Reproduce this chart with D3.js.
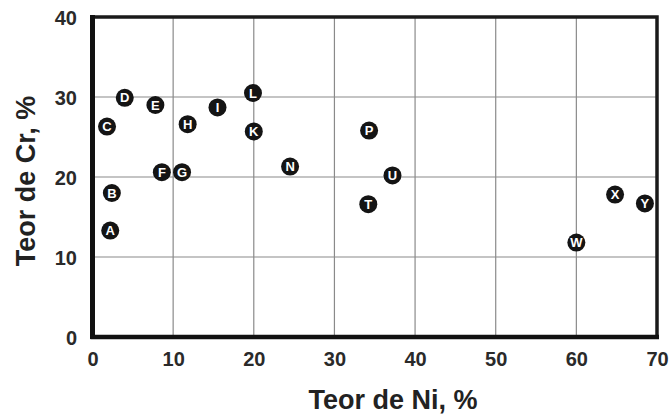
<!DOCTYPE html>
<html>
<head>
<meta charset="utf-8">
<script src="https://cdn.jsdelivr.net/npm/d3@7"></script>
<style>
  html, body { margin: 0; padding: 0; background: #fff; }
  svg { display: block; font-family: Arial, "Liberation Sans", Helvetica, sans-serif; }
</style>
</head>
<body>
<svg id="chart" width="671" height="415"></svg>
<script>
// Alloy labels with nickel and chromium contents (%)
const labels = ["A","B","C","D","E","F","G","H","I","L","K","N","P","U","T","W","X","Y"];
const niValues = [2.2, 2.4, 1.8, 4.0, 7.8, 8.6, 11.1, 11.8, 15.5, 19.9, 20.0, 24.5, 34.3, 37.2, 34.2, 60.0, 64.8, 68.5];
const crValues = [13.3, 18.0, 26.3, 29.9, 29.0, 20.6, 20.6, 26.6, 28.7, 30.5, 25.7, 21.3, 25.8, 20.2, 16.6, 11.8, 17.8, 16.7];
const xTicks = [0, 10, 20, 30, 40, 50, 60, 70];
const yTicks = [0, 10, 20, 30, 40];

const svg = d3.select("#chart");
const margin = { left: 92.5, right: 671 - 657, top: 17, bottom: 415 - 337 };
const W = 671, H = 415;

const x = d3.scaleLinear().domain([0, 70]).range([margin.left, W - margin.right]);
const y = d3.scaleLinear().domain([0, 40]).range([H - margin.bottom, margin.top]);

// Grid lines
svg.append("g")
  .selectAll("line.vg")
  .data(xTicks.slice(1, -1))
  .join("line")
  .attr("x1", d => x(d)).attr("x2", d => x(d))
  .attr("y1", y(0)).attr("y2", y(40))
  .attr("stroke", "#8a8a8a").attr("stroke-width", 1.2);

svg.append("g")
  .selectAll("line.hg")
  .data(yTicks.slice(1, -1))
  .join("line")
  .attr("x1", x(0)).attr("x2", x(70))
  .attr("y1", d => y(d)).attr("y2", d => y(d))
  .attr("stroke", "#8a8a8a").attr("stroke-width", 1.2);

// Frame: heavy left/bottom axes, lighter top/right border
svg.append("rect")
  .attr("x", x(0)).attr("y", y(40))
  .attr("width", x(70) - x(0)).attr("height", y(0) - y(40))
  .attr("fill", "none").attr("stroke", "#1a1a1a").attr("stroke-width", 3.5);
svg.append("line")
  .attr("x1", x(0)).attr("x2", x(0)).attr("y1", y(40) - 2).attr("y2", y(0) + 2)
  .attr("stroke", "#111").attr("stroke-width", 5);
svg.append("line")
  .attr("x1", x(0) - 2).attr("x2", x(70) + 2).attr("y1", y(0)).attr("y2", y(0))
  .attr("stroke", "#111").attr("stroke-width", 4.5);

// Axes (ticks rendered as labels only)
const xAxis = d3.axisBottom(x).tickValues(xTicks).tickSize(0).tickPadding(0).tickFormat(d3.format("d"));
const gx = svg.append("g").attr("transform", `translate(0,${y(0) + 29})`).call(xAxis);
gx.select(".domain").remove();
gx.selectAll("text")
  .attr("dy", 0)
  .attr("font-size", 20).attr("font-weight", "bold").attr("fill", "#2a2a2a")
  .attr("font-family", "Arial, 'Liberation Sans', sans-serif");

const yAxis = d3.axisLeft(y).tickValues(yTicks).tickSize(0).tickPadding(0).tickFormat(d3.format("d"));
const gy = svg.append("g").attr("transform", `translate(77,0)`).call(yAxis);
gy.select(".domain").remove();
gy.selectAll("text")
  .attr("dy", "0.36em")
  .attr("font-size", 20).attr("font-weight", "bold").attr("fill", "#2a2a2a")
  .attr("font-family", "Arial, 'Liberation Sans', sans-serif");

// Axis titles
svg.append("text")
  .attr("x", 393).attr("y", 409)
  .attr("text-anchor", "middle")
  .attr("font-size", 27).attr("font-weight", "bold").attr("fill", "#222")
  .text("Teor de Ni, %");

svg.append("text")
  .attr("transform", "translate(35,181) rotate(-90)")
  .attr("text-anchor", "middle")
  .attr("font-size", 27).attr("font-weight", "bold").attr("fill", "#222")
  .text("Teor de Cr, %");

// Markers
const pts = labels.map((l, i) => ({ label: l, ni: niValues[i], cr: crValues[i] }));
const g = svg.append("g").selectAll("g.pt").data(pts).join("g")
  .attr("transform", d => `translate(${x(d.ni)},${y(d.cr)})`);
g.append("circle").attr("r", 9).attr("fill", "#141414");
g.append("text")
  .attr("text-anchor", "middle").attr("dy", "0.36em")
  .attr("font-size", 13).attr("font-weight", "bold").attr("fill", "#fff")
  .text(d => d.label);
</script>
</body>
</html>
